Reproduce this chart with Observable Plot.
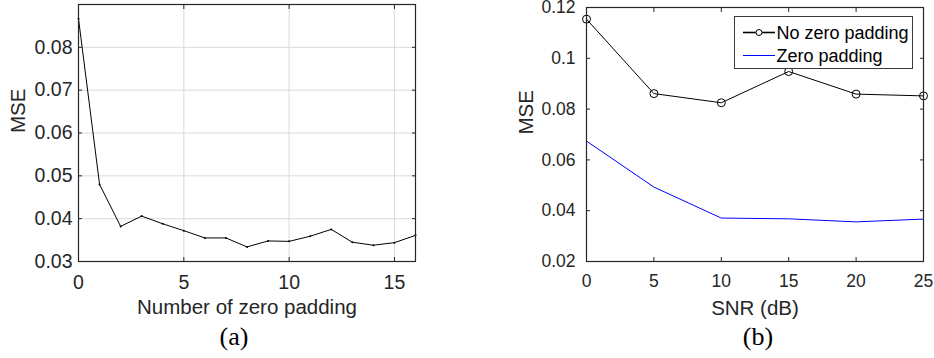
<!DOCTYPE html>
<html><head><meta charset="utf-8">
<script src="https://cdn.jsdelivr.net/npm/d3@7"></script>
<script src="https://cdn.jsdelivr.net/npm/@observablehq/plot@0.6"></script>
<style>
body{margin:0;background:#fff;}
#wrap{position:relative;width:934px;height:358px;overflow:hidden;background:#fff;font-family:"Liberation Sans",Arial,sans-serif;}
#wrap > svg, #wrap > figure{position:absolute;top:0;margin:0;}
</style></head><body><div id="wrap"></div>
<script>
// ---- data (a) ----
const padCount = [0,1,2,3,4,5,6,7,8,9,10,11,12,13,14,15,16];
const padMSE = [0.0867,0.0480,0.0382,0.0406,0.0388,0.0372,0.0355,0.0355,0.0334,0.0348,0.0347,0.0359,0.0375,0.0345,0.0338,0.0344,0.0361];
const leftXTicks = [0,5,10,15];
const leftYTicks = [0.03,0.04,0.05,0.06,0.07,0.08];
const leftXLabel = "Number of zero padding";
const leftCaption = "(a)";
// ---- data (b) ----
const snrDB = [0,5,10,15,20,25];
const mseNoPad = [0.1154,0.0861,0.0825,0.0948,0.0859,0.0852];
const msePad = [0.0674,0.0493,0.0371,0.0368,0.0356,0.0367];
const rightXTicks = [0,5,10,15,20,25];
const rightYTicks = [0.02,0.04,0.06,0.08,0.10,0.12];
const rightXLabel = "SNR (dB)";
const rightCaption = "(b)";
const yLabel = "MSE";
const seriesNames = ["No zero padding","Zero padding"];

const ink = "#262626";
const sans = "Liberation Sans, Arial, sans-serif";
const serif = "Liberation Serif, Times New Roman, serif";

function inwardTicks(xt, yt) {
  const o = {tickSize: -4, tickFormat: () => "", label: null, stroke: ink};
  return [
    Plot.axisX(xt, {...o, anchor: "bottom"}),
    Plot.axisX(xt, {...o, anchor: "top"}),
    Plot.axisY(yt, {...o, anchor: "left"}),
    Plot.axisY(yt, {...o, anchor: "right"})
  ];
}

const wrap = document.getElementById("wrap");

// ---- chart (a) ----
const padTable = padCount.map((n, i) => ({n, mse: padMSE[i]}));
const left = Plot.plot({
  width: 467, height: 358,
  marginLeft: 78, marginRight: 52, marginTop: 4, marginBottom: 97,
  style: {fontFamily: sans, color: ink, background: "transparent", overflow: "visible"},
  x: {domain: [0, 16]},
  y: {domain: [0.03, 0.09]},
  marks: [
    Plot.gridX(leftXTicks, {stroke: "#dadada", strokeOpacity: 1}),
    Plot.gridY(leftYTicks, {stroke: "#dadada", strokeOpacity: 1}),
    Plot.line(padTable, {x: "n", y: "mse", stroke: "#000", strokeWidth: 1}),
    Plot.dot(padTable, {x: "n", y: "mse", r: 1, fill: "#000"}),
    Plot.frame({stroke: ink, strokeWidth: 1.2}),
    ...inwardTicks(leftXTicks, leftYTicks),
    Plot.axisX(leftXTicks, {anchor: "bottom", tickSize: 0, tickPadding: 14, fontSize: 19.5, label: null, fill: ink}),
    Plot.axisY(leftYTicks, {anchor: "left", tickSize: 0, tickPadding: 6, fontSize: 19.5, label: null, fill: ink, tickFormat: d3.format(".2f")}),
    Plot.text([leftXLabel], {text: d => d, frameAnchor: "bottom", dy: 46, lineAnchor: "middle", fontSize: 20.5, fill: ink}),
    Plot.text([leftCaption], {text: d => d, frameAnchor: "bottom", dy: 75, dx: -13, lineAnchor: "middle", fontSize: 26, fontFamily: serif, fill: "#000"}),
    Plot.text([yLabel], {text: d => d, frameAnchor: "left", dx: -60, rotate: -90, lineAnchor: "middle", fontSize: 20.5, fill: ink})
  ]
});
left.style.left = "0px";
wrap.appendChild(left);

// ---- chart (b) ----
const noPadTable = snrDB.map((s, i) => ({s, mse: mseNoPad[i], series: seriesNames[0]}));
const padTable2 = snrDB.map((s, i) => ({s, mse: msePad[i], series: seriesNames[1]}));
const right = Plot.plot({
  width: 467, height: 358,
  marginLeft: 119, marginRight: 11, marginTop: 7, marginBottom: 97,
  style: {fontFamily: sans, color: ink, background: "transparent", overflow: "visible"},
  x: {domain: [0, 25]},
  y: {domain: [0.02, 0.12]},
  marks: [
    Plot.line(padTable2, {x: "s", y: "mse", stroke: "#0000ff", strokeWidth: 1}),
    Plot.line(noPadTable, {x: "s", y: "mse", stroke: "#000", strokeWidth: 1}),
    Plot.dot(noPadTable, {x: "s", y: "mse", r: 4, stroke: "#000", fill: "none", strokeWidth: 1}),
    Plot.frame({stroke: ink, strokeWidth: 1.2}),
    ...inwardTicks(rightXTicks, rightYTicks),
    Plot.axisX(rightXTicks, {anchor: "bottom", tickSize: 0, tickPadding: 13, fontSize: 17.5, label: null, fill: ink}),
    Plot.axisY(rightYTicks, {anchor: "left", tickSize: 0, tickPadding: 11, fontSize: 17.5, label: null, fill: ink, tickFormat: d3.format("~g")}),
    Plot.text([rightXLabel], {text: d => d, frameAnchor: "bottom", dy: 47, lineAnchor: "middle", fontSize: 20.5, fill: ink}),
    Plot.text([rightCaption], {text: d => d, frameAnchor: "bottom", dy: 75, dx: 3, lineAnchor: "middle", fontSize: 26, fontFamily: serif, fill: "#000"}),
    Plot.text([yLabel], {text: d => d, frameAnchor: "left", dx: -60.5, rotate: -90, lineAnchor: "middle", fontSize: 20.5, fill: ink})
  ]
});
right.style.left = "467px";
wrap.appendChild(right);

// ---- legend for (b) ----
const ns = "http://www.w3.org/2000/svg";
const leg = document.createElementNS(ns, "svg");
leg.setAttribute("width", 179); leg.setAttribute("height", 53);
leg.style.position = "absolute"; leg.style.left = "734px"; leg.style.top = "16px";
const legItems = [
  {name: seriesNames[0], color: "#000", marker: true, y: 16.5},
  {name: seriesNames[1], color: "#0000ff", marker: false, y: 39.5}
];
let html = `<rect x="0.5" y="0.5" width="178" height="52" fill="#fff" stroke="#3a3a3a" stroke-width="1"/>`;
for (const it of legItems) {
  html += `<line x1="9" x2="41" y1="${it.y}" y2="${it.y}" stroke="${it.color}" stroke-width="${it.marker ? 1.6 : 1}"/>`;
  if (it.marker) html += `<circle cx="25" cy="${it.y}" r="3" fill="#fff" stroke="#000" stroke-width="1"/>`;
  html += `<text x="42.5" y="${it.y}" dy="0.35em" font-family="${sans}" font-size="18" fill="#000">${it.name}</text>`;
}
leg.innerHTML = html;
wrap.appendChild(leg);
</script>
</body></html>
